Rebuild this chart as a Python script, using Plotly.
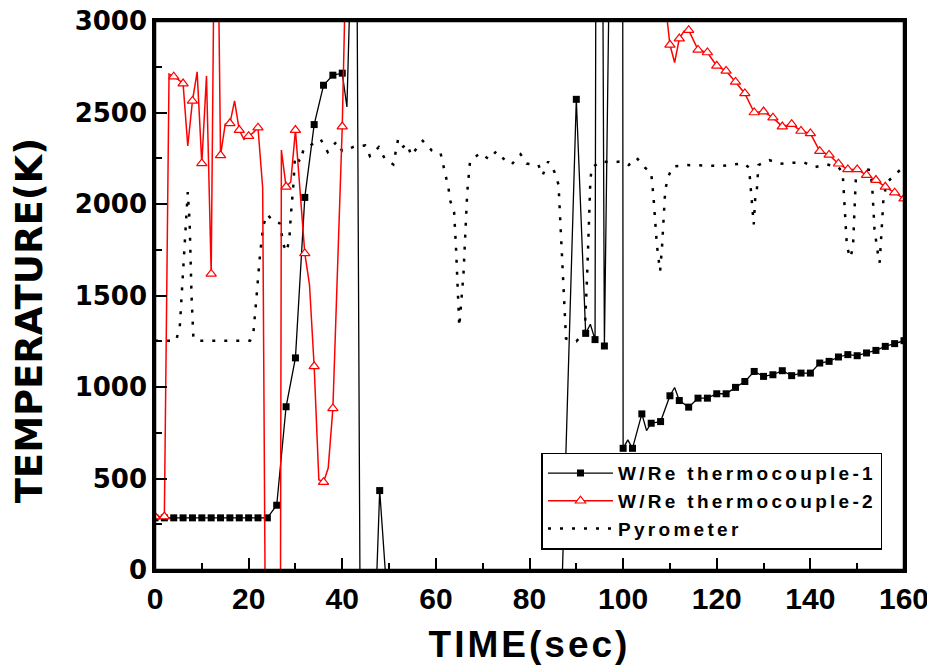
import plotly.graph_objects as go

# W/Re thermocouple-1 (every vertex of the trace; a square sits on every even second)
tc1_time = [0, 2, 4, 6, 8, 10, 12, 14, 16, 18, 20, 22, 24, 26, 28, 30, 32, 34, 36, 38,
            40, 41, 42, 43.1, 44, 47, 48, 50, 86.7, 90, 92, 93, 94, 94.2, 95.6, 96, 97.2,
            99.9, 100, 101, 102, 104, 105, 106, 108, 110, 111, 112, 114, 116, 118, 120,
            122, 124, 126, 128, 130, 132, 134, 136, 138, 140, 142, 144, 146, 148, 150,
            152, 154, 156, 158, 160]
tc1_temp = [285, 285, 285, 285, 285, 285, 285, 285, 285, 285, 285, 285, 285, 354, 892,
            1159, 2036, 2434, 2649, 2704, 2715, 2530, 3480, 3526, -1210, -300, 434, -300,
            -300, 2572, 1293, 1343, 1259, 3600, 3600, 1224, 3600, 3600, 665, 711, 665, 853,
            762, 802, 811, 952, 997, 926, 890, 939, 939, 963, 963, 998, 1030, 1085, 1058,
            1067, 1089, 1062, 1076, 1076, 1131, 1140, 1164, 1177, 1171, 1186, 1200, 1222,
            1237, 1253]

# W/Re thermocouple-2
tc2_time = [0, 2, 3, 4, 5, 6, 7, 8, 9, 10, 11, 12, 13, 14, 15, 16, 17, 18, 19, 20, 21,
            22, 23, 24, 25, 26, 27, 28, 29, 30, 32, 33, 34, 35, 36, 37, 38, 40, 41, 109,
            110, 111, 112, 113, 114, 116, 118, 120, 122, 124, 126, 128, 130, 132, 134,
            136, 138, 140, 142, 144, 146, 148, 150, 152, 154, 156, 158, 160]
tc2_temp = [292, 292, 2710, 2696, 2680, 2658, 2317, 2563, 2722, 2222, 2700, 1618, 4450,
            2266, 2436, 2441, 2563, 2404, 2353, 2371, 2390, 2417, 2089, -2100, -10000,
            -10000, 2295, 2094, 2120, 2404, 1730, 1560, 1113, 493, 480, 557, 883, 2423,
            3600, 3100, 2870, 2773, 2904, 2945, 2950, 2842, 2828, 2755, 2727, 2667, 2604,
            2500, 2505, 2472, 2423, 2436, 2399, 2386, 2289, 2268, 2220, 2189, 2189, 2158,
            2131, 2094, 2062, 2029]

# Pyrometer
pyro_time = [0, 4.5, 5.3, 6.0, 6.6, 7.0, 7.4, 7.8, 8.2, 9.0, 20.3, 21.0, 21.7, 22.4, 23.1,
             23.9, 25.4, 26.7, 27.4, 28.1, 28.7, 29.0, 29.6, 29.9, 31.0, 31.7, 33.3, 35.4,
             36.9, 38.8, 40.0, 42.5, 44.9, 45.9, 47.8, 49.1, 50.9, 51.4, 51.9, 52.8, 53.8,
             54.8, 55.9, 57.2, 59.1, 61.0, 61.6, 62.7, 63.1, 63.9, 64.3, 64.6, 65.0, 65.4,
             65.9, 66.3, 66.7, 67.3, 69.4, 71.4, 72.9, 74.8, 76.2, 78.1, 79.4, 81.9, 82.8,
             84.0, 85.3, 86.2, 86.6, 86.9, 87.5, 87.8, 90.0, 91.8, 92.3, 92.6, 93.0, 93.3,
             95.1, 97.6, 99.6, 101.2, 102.9, 104.6, 106.0, 106.5, 106.8, 107.2, 107.5,
             107.9, 108.3, 108.6, 109.0, 109.7, 110.6, 113.2, 115.7, 118.2, 120.7, 123.2,
             125.7, 126.9, 127.1, 127.4, 127.6, 127.9, 128.2, 128.6, 128.9, 131.2, 133.5,
             136.2, 138.7, 141.0, 143.5, 146.0, 146.9, 147.2, 147.5, 147.8, 148.5, 149.1,
             149.4, 149.7, 149.8, 151.0, 152.8, 153.2, 153.4, 153.7, 154.4, 154.8, 155.1,
             155.4, 155.6, 156.3, 157.8, 159.7, 160]
pyro_temp = [1253, 1253, 1330, 1650, 1900, 2065, 1900, 1500, 1270, 1253, 1253, 1290, 1496,
             1714, 1879, 1943, 1906, 1894, 1779, 1739, 1806, 1934, 2117, 2262, 2231, 2295,
             2322, 2353, 2284, 2341, 2290, 2313, 2320, 2262, 2311, 2247, 2216, 2284, 2350,
             2308, 2329, 2264, 2305, 2345, 2293, 2278, 2212, 2086, 2015, 1954, 1762, 1560,
             1330, 1457, 1620, 1843, 2065, 2233, 2278, 2244, 2288, 2238, 2217, 2272, 2221,
             2213, 2157, 2232, 2177, 2106, 1903, 1700, 1457, 1265, 1250, 1300, 1600, 1850,
             2130, 2197, 2233, 2227, 2233, 2213, 2252, 2200, 2171, 2034, 1916, 1779, 1715,
             1633, 1761, 1916, 2080, 2153, 2204, 2213, 2213, 2210, 2207, 2213, 2222, 2199,
             2134, 2062, 1989, 1888, 2025, 2089, 2213, 2240, 2220, 2226, 2226, 2202, 2216,
             2202, 2171, 2025, 1879, 1769, 1706, 1761, 1952, 2089, 2189, 2193, 2185, 2098,
             1989, 1861, 1733, 1679, 1806, 1934, 2025, 2117, 2153, 2199, 2215]

x_ticks = [0, 20, 40, 60, 80, 100, 120, 140, 160]
y_ticks = [0, 500, 1000, 1500, 2000, 2500, 3000]

names = ['W/Re thermocouple-1', 'W/Re thermocouple-2', 'Pyrometer']


def even_seconds(times, temps):
    pts = [(t, v) for t, v in zip(times, temps) if t % 2 == 0]
    return [p[0] for p in pts], [p[1] for p in pts]


def spaced(text, px):
    return f'<span style="letter-spacing:{px}px">{text}</span>'


black_marker = dict(symbol='square', size=7, color='black')
red_marker = dict(symbol='triangle-up', size=9, color='white',
                  line=dict(color='#ff0000', width=1.2))
dot_line = dict(color='black', width=2.5, dash='3px,9px')

fig = go.Figure()

fig.add_trace(go.Scatter(x=pyro_time, y=pyro_temp, mode='lines', line=dot_line,
                         showlegend=False, hoverinfo='skip'))

fig.add_trace(go.Scatter(x=tc1_time, y=tc1_temp, mode='lines',
                         line=dict(color='black', width=1.3), showlegend=False))
mx, my = even_seconds(tc1_time, tc1_temp)
fig.add_trace(go.Scatter(x=mx, y=my, mode='markers', marker=black_marker, showlegend=False))

fig.add_trace(go.Scatter(x=tc2_time, y=tc2_temp, mode='lines',
                         line=dict(color='#ff0000', width=1.5), showlegend=False))
mx, my = even_seconds(tc2_time, tc2_temp)
fig.add_trace(go.Scatter(x=mx, y=my, mode='markers', marker=red_marker, showlegend=False))

# legend entries
fig.add_trace(go.Scatter(x=[None], y=[None], mode='lines+markers', name=spaced(names[0], 3.3),
                         line=dict(color='black', width=1.3), marker=black_marker))
fig.add_trace(go.Scatter(x=[None], y=[None], mode='lines+markers', name=spaced(names[1], 3.3),
                         line=dict(color='#ff0000', width=1.5), marker=red_marker))
fig.add_trace(go.Scatter(x=[None], y=[None], mode='lines', name=spaced(names[2], 3.3),
                         line=dot_line))

axis_common = dict(
    showline=True, linewidth=2.5, linecolor='black', mirror=True,
    showgrid=False, zeroline=False, ticks='inside', ticklen=12, tickwidth=2,
    tickcolor='black', automargin=False, ticklabeloverflow='allow',
)

fig.update_xaxes(
    **axis_common,
    range=[0, 160], tickvals=x_ticks,
    minor=dict(ticks='inside', ticklen=7, tickwidth=2, dtick=10, tickcolor='black'),
    tickfont=dict(family='Liberation Sans', size=30, weight='bold', color='black'),
    title=dict(text=spaced('TIME(sec)', 3), standoff=18,
               font=dict(family='Liberation Sans', size=37, weight='bold', color='black')),
)
fig.update_yaxes(
    **axis_common,
    range=[0, 3000], tickvals=y_ticks,
    minor=dict(ticks='inside', ticklen=7, tickwidth=2, dtick=250, tickcolor='black'),
    tickfont=dict(family='DejaVu Sans', size=26, weight='bold', color='black'),
)

# y title sits a little below the middle of the axis in the original
fig.add_annotation(text='TEMPERATURE(K)', textangle=-90, showarrow=False,
                   xref='paper', yref='paper', x=-0.168, y=0.455,
                   xanchor='center', yanchor='middle',
                   font=dict(family='DejaVu Sans', size=37, weight='bold', color='black'))

# plot frame
fig.add_shape(type='rect', xref='paper', yref='paper', x0=0, y0=0, x1=1, y1=1,
              line=dict(color='black', width=2.5), layer='above')

# the page adds an 8 px body margin, so the figure is 16 px smaller than the window
fig.update_layout(
    width=927, height=663,
    margin=dict(l=147, r=31, t=13, b=101),
    plot_bgcolor='white', paper_bgcolor='white',
    legend=dict(x=0.516, y=0.2137, xanchor='left', yanchor='top',
                bgcolor='white', bordercolor='black', borderwidth=1.5,
                font=dict(family='Liberation Sans', size=19, weight='bold', color='black'),
                itemwidth=65, tracegroupgap=0),
)

fig.write_html('out.html')
